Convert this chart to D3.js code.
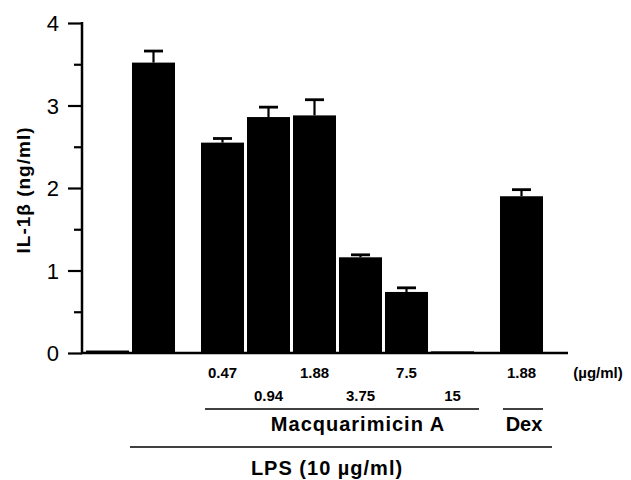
<!DOCTYPE html>
<html>
<head>
<meta charset="utf-8">
<script src="https://cdn.jsdelivr.net/npm/d3@7"></script>
<style>
  html, body { margin: 0; padding: 0; background: #fff; }
  svg { display: block; }
  text { font-family: "Liberation Sans", Arial, Helvetica, sans-serif; fill: #000; }
</style>
</head>
<body>
<svg id="chart" width="631" height="480"></svg>
<script>
// ---- data ----
const categories = ["Control", "LPS", "0.47", "0.94", "1.88", "3.75", "7.5", "15", "Dex 1.88"];
const groups     = [0, 0, 1, 1, 1, 1, 1, 1, 2];           // 0: none/LPS only, 1: Macquarimicin A, 2: Dex
const values     = [0.03, 3.52, 2.55, 2.86, 2.88, 1.16, 0.74, 0.02, 1.90];
const errors     = [0, 0.14, 0.05, 0.12, 0.19, 0.03, 0.05, 0, 0.08];
const doseLabels = ["", "", "0.47", "0.94", "1.88", "3.75", "7.5", "15", "1.88"];
const doseRows   = [0, 0, 0, 1, 0, 1, 0, 1, 0];
const yTicksMajor = [0, 1, 2, 3, 4];
const yTicksMinor = [0.5, 1.5, 2.5, 3.5];

const svg = d3.select("#chart");

// ---- scales ----
const y = d3.scaleLinear().domain([0, 4]).range([353, 23]);
// slot index: each group boundary inserts half a slot gap
const slots = categories.map((c, i) => i + 0.5 * groups[i]);
const x = d3.scaleLinear().domain([0, 9]).range([107.5, 521.5]);
const step = x(1) - x(0);
const barW = step * 0.935;

// ---- y axis ----
const axisX = 82;
const yAxisMajor = d3.axisLeft(y).tickValues(yTicksMajor).tickSize(14).tickPadding(9).tickFormat(d3.format("d"));
const gY = svg.append("g").attr("transform", `translate(${axisX},0)`).call(yAxisMajor);
gY.select(".domain").remove();
gY.selectAll(".tick line").attr("stroke", "#000").attr("stroke-width", 2.2);
gY.selectAll(".tick text").style("font-size", "22px").style("font-family", "'Liberation Sans', Arial, sans-serif").attr("dy", "0.36em");

const yAxisMinor = d3.axisLeft(y).tickValues(yTicksMinor).tickSize(8).tickFormat("");
const gYm = svg.append("g").attr("transform", `translate(${axisX},0)`).call(yAxisMinor);
gYm.select(".domain").remove();
gYm.selectAll(".tick line").attr("stroke", "#000").attr("stroke-width", 2.2);

svg.append("line").attr("x1", axisX).attr("x2", axisX).attr("y1", y(4) - 1).attr("y2", y(0) + 1)
  .attr("stroke", "#000").attr("stroke-width", 2.5);
// baseline
svg.append("line").attr("x1", 81).attr("x2", 568).attr("y1", y(0)).attr("y2", y(0))
  .attr("stroke", "#000").attr("stroke-width", 2.5);

// y title
svg.append("text")
  .attr("transform", `translate(30,190) rotate(-90)`)
  .attr("text-anchor", "middle")
  .style("font-size", "19px").style("font-weight", "bold").style("letter-spacing", "1px")
  .text("IL-1β (ng/ml)");

// ---- bars ----
const data = categories.map((c, i) => ({ c, v: values[i], e: errors[i], s: slots[i], lab: doseLabels[i], row: doseRows[i] }));

svg.append("g").selectAll("rect").data(data).join("rect")
  .attr("x", d => x(d.s) - barW / 2)
  .attr("width", barW)
  .attr("y", d => y(d.v))
  .attr("height", d => y(0) - y(d.v))
  .attr("fill", "#000");

// error bars
const eb = svg.append("g").selectAll("g").data(data.filter(d => d.e > 0)).join("g");
eb.append("line")
  .attr("x1", d => x(d.s)).attr("x2", d => x(d.s))
  .attr("y1", d => y(d.v)).attr("y2", d => y(d.v + d.e))
  .attr("stroke", "#000").attr("stroke-width", 2.2);
eb.append("line")
  .attr("x1", d => x(d.s) - 9.5).attr("x2", d => x(d.s) + 9.5)
  .attr("y1", d => y(d.v + d.e)).attr("y2", d => y(d.v + d.e))
  .attr("stroke", "#000").attr("stroke-width", 2.8);

// ---- dose labels ----
svg.append("g").selectAll("text").data(data.filter(d => d.lab)).join("text")
  .attr("x", d => x(d.s))
  .attr("y", d => d.row === 0 ? 378 : 401)
  .attr("text-anchor", "middle")
  .style("font-size", "15px").style("font-weight", "bold")
  .text(d => d.lab);

svg.append("text").attr("x", 598).attr("y", 378).attr("text-anchor", "middle")
  .style("font-size", "15px").style("font-weight", "bold").text("(µg/ml)");

// ---- group lines & labels ----
const macq = data.filter((d, i) => groups[i] === 1);
const dex = data.filter((d, i) => groups[i] === 2);
const lps = data.filter((d, i) => i > 0);

const macqX1 = x(macq[0].s) - barW / 2 + 4, macqX2 = x(macq[macq.length - 1].s) + barW / 2 + 5;
svg.append("line").attr("x1", macqX1).attr("x2", macqX2).attr("y1", 409).attr("y2", 409)
  .attr("stroke", "#000").attr("stroke-width", 1.6);
svg.append("text").attr("x", (macqX1 + macqX2) / 2 + 16).attr("y", 431).attr("text-anchor", "middle")
  .style("font-size", "20px").style("font-weight", "bold").style("letter-spacing", "1px")
  .text("Macquarimicin A");

const dexX1 = x(dex[0].s) - barW / 2 + 3, dexX2 = x(dex[0].s) + barW / 2;
svg.append("line").attr("x1", dexX1).attr("x2", dexX2).attr("y1", 409).attr("y2", 409)
  .attr("stroke", "#000").attr("stroke-width", 1.6);
svg.append("text").attr("x", (dexX1 + dexX2) / 2 + 1).attr("y", 431).attr("text-anchor", "middle")
  .style("font-size", "20px").style("font-weight", "bold")
  .text("Dex");

const lpsX1 = x(lps[0].s) - barW / 2 - 2, lpsX2 = x(dex[0].s) + barW / 2 + 9;
svg.append("line").attr("x1", lpsX1).attr("x2", lpsX2).attr("y1", 447).attr("y2", 447)
  .attr("stroke", "#000").attr("stroke-width", 1.6);
svg.append("text").attr("x", 327).attr("y", 475).attr("text-anchor", "middle")
  .style("font-size", "20px").style("font-weight", "bold").style("letter-spacing", "1px")
  .text("LPS (10 µg/ml)");
</script>
</body>
</html>
